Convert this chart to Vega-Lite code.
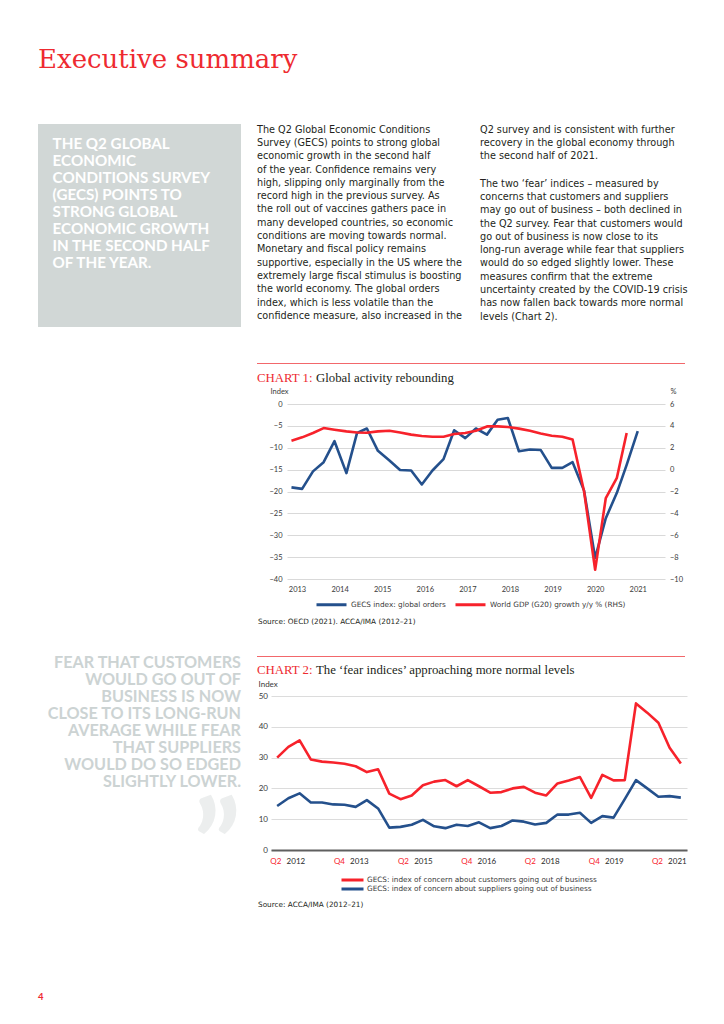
{
  "$schema": "https://vega.github.io/schema/vega-lite/v6.json",
  "padding": {"left": 38, "top": 0, "right": 0, "bottom": 0},
  "background": "white",
  "config": {
    "view": {"stroke": null},
    "font": "Lato",
    "title": {"anchor": "start", "frame": "group", "orient": "top", "baseline": "top", "fontWeight": "normal", "color": "#231f20"},
    "axis": {"labelFont": "Lato", "titleFont": "Lato", "labelColor": "#3a3a3a", "titleColor": "#3a3a3a", "titleFontWeight": "normal", "labelOverlap": false},
    "legend": {"labelFont": "DejaVu Sans", "labelColor": "#3a3a3a", "labelLimit": 400}
  },
  "spacing": 0,
  "vconcat": [
    {
      "width": 640, "height": 124,
      "data": {"values": []}, "mark": "point",
      "title": {"text": "Executive summary", "font": "DejaVu Serif", "fontSize": 26, "color": "#ee2a30", "offset": -73.3}
    },
    {
      "spacing": 16,
      "resolve": {"scale": {"color": "independent"}, "legend": {"color": "independent"}},
      "hconcat": [
        {
          "spacing": 0,
          "vconcat": [
            {
              "width": 203, "height": 203,
              "data": {"values": []}, "mark": "point",
              "view": {"fill": "#d1d7d6", "stroke": null},
              "title": {"text": ["THE Q2 GLOBAL", "ECONOMIC", "CONDITIONS SURVEY", "(GECS) POINTS TO", "STRONG GLOBAL", "ECONOMIC GROWTH", "IN THE SECOND HALF", "OF THE YEAR."], "color": "#ffffff", "fontSize": 15.2, "fontWeight": "bold", "lineHeight": 16.9, "offset": -146.8, "dx": 14.6}
            },
            {
              "width": 203, "height": 463,
              "data": {"values": []}, "mark": "point",
              "title": {"text": ["FEAR THAT CUSTOMERS", "WOULD GO OUT OF", "BUSINESS IS NOW", "CLOSE TO ITS LONG-RUN", "AVERAGE WHILE FEAR", "THAT SUPPLIERS", "WOULD DO SO EDGED", "SLIGHTLY LOWER."], "anchor": "end", "align": "right", "color": "#ccd3d3", "fontSize": 16.2, "fontWeight": "bold", "lineHeight": 16.9, "offset": -462.8}
            },
            {
              "width": 203, "height": 140,
              "data": {"values": []}, "mark": "point",
              "title": {"text": "”", "anchor": "end", "align": "right", "color": "#eceeee", "fontSize": 125, "fontWeight": "bold", "offset": -127}
            },
            {
              "width": 203, "height": 80,
              "data": {"values": []}, "mark": "point",
              "title": {"text": "4", "color": "#ee2a30", "fontSize": 9.5, "fontWeight": "bold", "offset": -71.5}
            }
          ]
        },
        {
          "spacing": 0,
          "resolve": {"scale": {"color": "independent"}, "legend": {"color": "independent"}},
          "vconcat": [
            {
              "spacing": 17,
              "hconcat": [
                {
                  "width": 205, "height": 238,
                  "data": {"values": []}, "mark": "point",
                  "title": {"text": ["The Q2 Global Economic Conditions", "Survey (GECS) points to strong global", "economic growth in the second half", "of the year. Confidence remains very", "high, slipping only marginally from the", "record high in the previous survey. As", "the roll out of vaccines gathers pace in", "many developed countries, so economic", "conditions are moving towards normal.", "Monetary and fiscal policy remains", "supportive, especially in the US where the", "extremely large fiscal stimulus is boosting", "the world economy. The global orders", "index, which is less volatile than the", "confidence measure, also increased in the"], "font": "DejaVu Sans", "fontSize": 9.7, "lineHeight": 13.3, "offset": -196.6}
                },
                {
                  "spacing": 0,
                  "vconcat": [
                    {
                      "width": 206, "height": 53.2,
                      "data": {"values": []}, "mark": "point",
                      "title": {"text": ["Q2 survey and is consistent with further", "recovery in the global economy through", "the second half of 2021."], "font": "DejaVu Sans", "fontSize": 9.7, "lineHeight": 13.3, "offset": -37}
                    },
                    {
                      "width": 206, "height": 184.8,
                      "data": {"values": []}, "mark": "point",
                      "title": {"text": ["The two ‘fear’ indices – measured by", "concerns that customers and suppliers", "may go out of business – both declined in", "the Q2 survey. Fear that customers would", "go out of business is now close to its", "long-run average while fear that suppliers", "would do so edged slightly lower. These", "measures confirm that the extreme", "uncertainty created by the COVID-19 crisis", "has now fallen back towards more normal", "levels (Chart 2)."], "font": "DejaVu Sans", "fontSize": 9.7, "lineHeight": 13.3, "offset": -143.4}
                    }
                  ]
                }
              ]
            },
            {
              "width": 428, "height": 1,
              "data": {"values": []}, "mark": "point",
              "view": {"fill": "#f2676b", "stroke": null}
            },
            {
              "spacing": 3,
              "hconcat": [
                {
                  "width": 1, "height": 22.3,
                  "data": {"values": []}, "mark": "point",
                  "title": {"text": "CHART 1:", "font": "Liberation Serif", "fontSize": 12.8, "color": "#ee2a30", "offset": -20.5}
                },
                {
                  "width": 1, "height": 22.3,
                  "data": {"values": []}, "mark": "point",
                  "title": {"text": "Global activity rebounding", "font": "Liberation Serif", "fontSize": 12.8, "color": "#231f20", "offset": -20.5}
                }
              ]
            },
            {
              "spacing": 10,
              "resolve": {"scale": {"color": "independent"}, "legend": {"color": "independent"}},
              "hconcat": [
                {"width": 1, "height": 1, "data": {"values": []}, "mark": "point"},
                {
                  "width": 378, "height": 175,
                  "data": {"values": [
                    {"t": 2012.87, "orders": -19.05, "gdp": 2.65},
                    {"t": 2013.12, "orders": -19.4, "gdp": 2.95},
                    {"t": 2013.375, "orders": -15.4, "gdp": 3.35},
                    {"t": 2013.625, "orders": -13.3, "gdp": 3.8},
                    {"t": 2013.88, "orders": -8.5, "gdp": 3.65},
                    {"t": 2014.16, "orders": -15.8, "gdp": 3.5},
                    {"t": 2014.41, "orders": -6.6, "gdp": 3.4},
                    {"t": 2014.64, "orders": -5.6, "gdp": 3.37},
                    {"t": 2014.9, "orders": -10.7, "gdp": 3.5},
                    {"t": 2015.17, "orders": -12.9, "gdp": 3.55},
                    {"t": 2015.42, "orders": -15.1, "gdp": 3.4},
                    {"t": 2015.68, "orders": -15.2, "gdp": 3.2},
                    {"t": 2015.93, "orders": -18.4, "gdp": 3.07},
                    {"t": 2016.18, "orders": -15.2, "gdp": 3.0},
                    {"t": 2016.44, "orders": -12.6, "gdp": 3.0},
                    {"t": 2016.69, "orders": -6.0, "gdp": 3.25},
                    {"t": 2016.95, "orders": -7.8, "gdp": 3.35},
                    {"t": 2017.2, "orders": -5.6, "gdp": 3.55},
                    {"t": 2017.46, "orders": -7.0, "gdp": 3.95},
                    {"t": 2017.71, "orders": -3.6, "gdp": 3.95},
                    {"t": 2017.95, "orders": -3.2, "gdp": 3.9},
                    {"t": 2018.21, "orders": -10.8, "gdp": 3.75},
                    {"t": 2018.47, "orders": -10.4, "gdp": 3.55},
                    {"t": 2018.72, "orders": -10.5, "gdp": 3.3},
                    {"t": 2018.98, "orders": -14.6, "gdp": 3.1},
                    {"t": 2019.23, "orders": -14.6, "gdp": 3.0},
                    {"t": 2019.47, "orders": -13.3, "gdp": 2.75},
                    {"t": 2019.74, "orders": -19.8, "gdp": -2.0},
                    {"t": 2020.0, "orders": -35.2, "gdp": -9.15},
                    {"t": 2020.25, "orders": -26.1, "gdp": -2.6},
                    {"t": 2020.51, "orders": -20.3, "gdp": -0.75},
                    {"t": 2020.74, "orders": -13.9, "gdp": 3.35},
                    {"t": 2021.0, "orders": -6.2, "gdp": null}
                  ]},
                  "encoding": {
                    "x": {"field": "t", "type": "quantitative", "scale": {"domain": [2012.765, 2021.64], "nice": false, "zero": false},
                      "axis": {"values": [2013, 2014, 2015, 2016, 2017, 2018, 2019, 2020, 2021], "format": "d", "title": null, "grid": false, "ticks": false, "domain": false, "labelFontSize": 7.5, "labelPadding": 6}}
                  },
                  "layer": [
                    {
                      "mark": {"type": "line", "strokeWidth": 2.6, "strokeJoin": "round"},
                      "encoding": {
                        "y": {"field": "orders", "type": "quantitative", "scale": {"domain": [-40, 0], "nice": false},
                          "axis": {"values": [-40, -35, -30, -25, -20, -15, -10, -5, 0], "title": "Index", "titleAngle": 0, "titleX": -17, "titleY": -11, "titleAlign": "left", "titleBaseline": "alphabetic", "titleFontSize": 7.5, "grid": true, "gridColor": "#d9d9d9", "ticks": false, "domain": false, "labelFontSize": 7.5, "labelPadding": 5}},
                        "color": {"datum": "GECS index: global orders", "type": "nominal",
                          "scale": {"domain": ["GECS index: global orders", "World GDP (G20) growth y/y % (RHS)"], "range": ["#24508c", "#f7222b"]},
                          "legend": {"orient": "none", "legendX": 28, "legendY": 195.7, "direction": "horizontal", "title": null, "symbolType": "stroke", "symbolSize": 900, "symbolStrokeWidth": 3, "clipHeight": 10, "labelFontSize": 7.3, "labelOffset": 3, "columnPadding": 8, "padding": 0}}
                      }
                    },
                    {
                      "mark": {"type": "line", "strokeWidth": 2.6, "strokeJoin": "round"},
                      "encoding": {
                        "y": {"field": "gdp", "type": "quantitative", "scale": {"domain": [-10, 6], "nice": false},
                          "axis": {"orient": "right", "values": [-10, -8, -6, -4, -2, 0, 2, 4, 6], "title": "%", "titleAngle": 0, "titleX": 5, "titleY": -11, "titleAlign": "left", "titleBaseline": "alphabetic", "titleFontSize": 7.5, "grid": false, "ticks": false, "domain": false, "labelFontSize": 7.5, "labelPadding": 4.5, "labelAlign": "left"}},
                        "color": {"datum": "World GDP (G20) growth y/y % (RHS)", "type": "nominal"}
                      }
                    }
                  ],
                  "resolve": {"scale": {"y": "independent"}}
                }
              ]
            },
            {
              "width": 428, "height": 45.7,
              "data": {"values": []}, "mark": "point",
              "title": {"text": "Source: OECD (2021). ACCA/IMA (2012–21)", "font": "DejaVu Sans", "fontSize": 7.3, "color": "#231f20", "offset": -15.3, "dx": 1}
            },
            {
              "width": 428, "height": 1,
              "data": {"values": []}, "mark": "point",
              "view": {"fill": "#f2676b", "stroke": null}
            },
            {
              "spacing": 3,
              "hconcat": [
                {
                  "width": 1, "height": 22.7,
                  "data": {"values": []}, "mark": "point",
                  "title": {"text": "CHART 2:", "font": "Liberation Serif", "fontSize": 12.8, "color": "#ee2a30", "offset": -20.1}
                },
                {
                  "width": 1, "height": 22.7,
                  "data": {"values": []}, "mark": "point",
                  "title": {"text": "The ‘fear indices’ approaching more normal levels", "font": "Liberation Serif", "fontSize": 12.8, "color": "#231f20", "offset": -20.1}
                }
              ]
            },
            {
              "spacing": 0,
              "resolve": {"scale": {"color": "independent"}, "legend": {"color": "independent"}},
              "hconcat": [
                {"width": 1, "height": 1, "data": {"values": []}, "mark": "point"},
                {
                  "width": 416, "height": 154,
                  "data": {"values": [
                    {"i": 0, "q": "Q2 2012", "customers": 30.0, "suppliers": 14.3},
                    {"i": 1, "q": "Q3 2012", "customers": 33.5, "suppliers": 16.8},
                    {"i": 2, "q": "Q4 2012", "customers": 35.6, "suppliers": 18.4},
                    {"i": 3, "q": "Q1 2013", "customers": 29.4, "suppliers": 15.4},
                    {"i": 4, "q": "Q2 2013", "customers": 28.7, "suppliers": 15.4},
                    {"i": 5, "q": "Q3 2013", "customers": 28.4, "suppliers": 14.8},
                    {"i": 6, "q": "Q4 2013", "customers": 28.0, "suppliers": 14.7},
                    {"i": 7, "q": "Q1 2014", "customers": 27.2, "suppliers": 14.0},
                    {"i": 8, "q": "Q2 2014", "customers": 25.3, "suppliers": 16.2},
                    {"i": 9, "q": "Q3 2014", "customers": 26.2, "suppliers": 13.5},
                    {"i": 10, "q": "Q4 2014", "customers": 18.3, "suppliers": 7.25},
                    {"i": 11, "q": "Q1 2015", "customers": 16.5, "suppliers": 7.5},
                    {"i": 12, "q": "Q2 2015", "customers": 17.7, "suppliers": 8.2},
                    {"i": 13, "q": "Q3 2015", "customers": 21.0, "suppliers": 9.8},
                    {"i": 14, "q": "Q4 2015", "customers": 22.2, "suppliers": 7.7},
                    {"i": 15, "q": "Q1 2016", "customers": 22.7, "suppliers": 7.1},
                    {"i": 16, "q": "Q2 2016", "customers": 20.7, "suppliers": 8.2},
                    {"i": 17, "q": "Q3 2016", "customers": 22.7, "suppliers": 7.8},
                    {"i": 18, "q": "Q4 2016", "customers": 20.7, "suppliers": 9.0},
                    {"i": 19, "q": "Q1 2017", "customers": 18.6, "suppliers": 7.1},
                    {"i": 20, "q": "Q2 2017", "customers": 18.8, "suppliers": 7.8},
                    {"i": 21, "q": "Q3 2017", "customers": 20.0, "suppliers": 9.6},
                    {"i": 22, "q": "Q4 2017", "customers": 20.5, "suppliers": 9.2},
                    {"i": 23, "q": "Q1 2018", "customers": 18.6, "suppliers": 8.3},
                    {"i": 24, "q": "Q2 2018", "customers": 17.7, "suppliers": 8.8},
                    {"i": 25, "q": "Q3 2018", "customers": 21.6, "suppliers": 11.5},
                    {"i": 26, "q": "Q4 2018", "customers": 22.6, "suppliers": 11.5},
                    {"i": 27, "q": "Q1 2019", "customers": 23.7, "suppliers": 12.1},
                    {"i": 28, "q": "Q2 2019", "customers": 16.9, "suppliers": 8.8},
                    {"i": 29, "q": "Q3 2019", "customers": 24.4, "suppliers": 11.0},
                    {"i": 30, "q": "Q4 2019", "customers": 22.6, "suppliers": 10.5},
                    {"i": 31, "q": "Q1 2020", "customers": 22.7, "suppliers": 16.5},
                    {"i": 32, "q": "Q2 2020", "customers": 47.6, "suppliers": 22.7},
                    {"i": 33, "q": "Q3 2020", "customers": 44.6, "suppliers": 20.0},
                    {"i": 34, "q": "Q4 2020", "customers": 41.3, "suppliers": 17.3},
                    {"i": 35, "q": "Q1 2021", "customers": 33.2, "suppliers": 17.5},
                    {"i": 36, "q": "Q2 2021", "customers": 28.1, "suppliers": 17.0}
                  ]},
                  "layer": [
                    {
                      "mark": {"type": "line", "strokeWidth": 2.6, "strokeJoin": "round"},
                      "encoding": {
                        "x": {"field": "i", "type": "quantitative", "scale": {"domain": [-0.55, 36.55], "nice": false, "zero": false},
                          "axis": {"orient": "bottom", "values": [0.565, 6.23, 11.94, 17.6, 23.26, 28.97, 34.59], "labelExpr": "(datum.value < 3 || (datum.value > 9 && datum.value < 15) || (datum.value > 20 && datum.value < 26) || datum.value > 31) ? 'Q2' : 'Q4'", "labelColor": "#f7222b", "labelAlign": "right", "labelOffset": -2.6, "title": null, "ticks": false, "grid": false, "domain": true, "domainColor": "#5f5f5f", "domainWidth": 2, "labelFontSize": 8, "labelPadding": 7}},
                        "y": {"field": "customers", "type": "quantitative", "scale": {"domain": [0, 50], "nice": false},
                          "axis": {"values": [0, 10, 20, 30, 40, 50], "title": "Index", "titleAngle": 0, "titleX": -13, "titleY": -10, "titleAlign": "left", "titleBaseline": "alphabetic", "titleFontSize": 8, "grid": true, "gridColor": "#dcdcdc", "ticks": false, "domain": false, "labelFontSize": 8, "labelPadding": 3.5}},
                        "color": {"datum": "GECS: index of concern about customers going out of business", "type": "nominal",
                          "scale": {"domain": ["GECS: index of concern about customers going out of business", "GECS: index of concern about suppliers going out of business"], "range": ["#f7222b", "#24508c"]},
                          "legend": {"orient": "none", "legendX": 69, "legendY": 180, "direction": "vertical", "title": null, "symbolType": "stroke", "symbolSize": 484, "symbolStrokeWidth": 3, "clipHeight": 8, "labelFontSize": 7.3, "labelOffset": 2, "rowPadding": 1, "padding": 0, "labelLimit": 400}}
                      }
                    },
                    {
                      "mark": {"type": "line", "strokeWidth": 2.6, "strokeJoin": "round"},
                      "encoding": {
                        "x": {"field": "i", "type": "quantitative",
                          "axis": {"orient": "bottom", "values": [0.565, 6.23, 11.94, 17.6, 23.26, 28.97, 34.59], "labelExpr": "datum.value < 3 ? '2012' : datum.value < 9 ? '2013' : datum.value < 15 ? '2015' : datum.value < 20 ? '2016' : datum.value < 26 ? '2018' : datum.value < 31 ? '2019' : '2021'", "labelColor": "#2a2a2a", "labelAlign": "left", "labelOffset": 2.6, "title": null, "ticks": false, "grid": false, "domain": false, "labelFontSize": 8, "labelPadding": 7}},
                        "y": {"field": "suppliers", "type": "quantitative",
                          "axis": {"values": [0, 10, 20, 30, 40, 50], "title": "Index", "titleAngle": 0, "titleX": -13, "titleY": -10, "titleAlign": "left", "titleBaseline": "alphabetic", "titleFontSize": 8, "grid": true, "gridColor": "#dcdcdc", "ticks": false, "domain": false, "labelFontSize": 8, "labelPadding": 3.5}},
                        "color": {"datum": "GECS: index of concern about suppliers going out of business", "type": "nominal"}
                      }
                    }
                  ],
                  "resolve": {"axis": {"x": "independent"}}
                }
              ]
            },
            {
              "width": 428, "height": 40,
              "data": {"values": []}, "mark": "point",
              "title": {"text": "Source: ACCA/IMA (2012–21)", "font": "DejaVu Sans", "fontSize": 7.3, "color": "#231f20", "offset": -15, "dx": 1}
            }
          ]
        }
      ]
    }
  ]
}
